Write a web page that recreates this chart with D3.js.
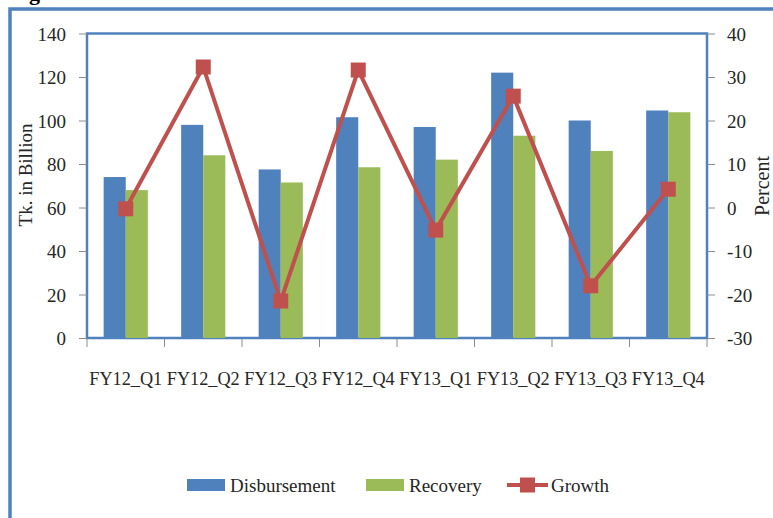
<!DOCTYPE html>
<html>
<head>
<meta charset="utf-8">
<script src="https://cdn.jsdelivr.net/npm/d3@7"></script>
<style>
  body { margin: 0; background: #fff; }
  svg text { font-family: "Liberation Serif", serif; fill: #262626; }
</style>
</head>
<body>
<div id="graph"></div>
<script>
// chart data
var quarters = ["FY12_Q1","FY12_Q2","FY12_Q3","FY12_Q4","FY13_Q1","FY13_Q2","FY13_Q3","FY13_Q4"];
var disbursement = [74, 98, 77.5, 101.5, 97, 122, 100, 104.6];
var recovery = [68, 84, 71.5, 78.5, 82, 93, 86, 103.8];
var growth = [-0.3, 32.3, -21.5, 31.6, -5.2, 25.6, -18, 4.2];
var leftTicks = [0,20,40,60,80,100,120,140];
var rightTicks = [-30,-20,-10,0,10,20,30,40];
var seriesNames = ["Disbursement","Recovery","Growth"];

var w = 773, h = 518;
var blue = "#4F81BD", green = "#9BBB59", red = "#C0504D";

var vis = d3.select("div#graph").append("svg")
    .attr("width", w)
    .attr("height", h);

// cut-off caption and outer frame
vis.append("text").attr("x", 29).attr("y", 0).style("font-size","22px")
   .style("font-weight","bold").style("fill","#000").text("g");
vis.append("rect").attr("x", 10).attr("y", 9).attr("width", 800).attr("height", 560)
   .attr("fill","none").attr("stroke", blue).attr("stroke-width", 3.5);

var pLeft = 87, pRight = 707, pTop = 33.5, pBottom = 338;

var x = d3.scaleBand().domain(quarters).range([pLeft, pRight])
    .paddingInner(0.43).paddingOuter(0.215);
var xCell = d3.scaleBand().domain(quarters).range([pLeft, pRight]);
var xs = d3.scaleBand().domain([0,1]).range([0, x.bandwidth()]);
var yL = d3.scaleLinear().domain([0,140]).range([pBottom, pTop]);
var yR = d3.scaleLinear().domain([-30,40]).range([pBottom, pTop]);

// plot frame
vis.append("rect").attr("x", pLeft).attr("y", pTop)
   .attr("width", pRight-pLeft).attr("height", pBottom-pTop)
   .attr("fill","#fff").attr("stroke", blue).attr("stroke-width", 2.5);

// bars
var bars = [disbursement, recovery];
var colors = [blue, green];
bars.forEach(function(vals, i) {
  vis.selectAll("rect.s"+i)
     .data(vals)
     .enter().append("rect")
     .attr("class","s"+i)
     .attr("x", function(d,j){ return x(quarters[j]) + xs(i); })
     .attr("width", xs.bandwidth())
     .attr("y", function(d){ return yL(d); })
     .attr("height", function(d){ return yL(0) - yL(d); })
     .attr("fill", colors[i]);
});

// axes (plain hyphen for negatives, like the original)
var plain = function(d){ return String(d); };
var axL = vis.append("g").attr("transform","translate("+pLeft+",0)")
   .call(d3.axisLeft(yL).tickValues(leftTicks).tickFormat(plain).tickSize(8).tickPadding(13));
var axR = vis.append("g").attr("transform","translate("+pRight+",0)")
   .call(d3.axisRight(yR).tickValues(rightTicks).tickFormat(plain).tickSize(8).tickPadding(12));
var axB = vis.append("g").attr("transform","translate(0,"+pBottom+")")
   .call(d3.axisBottom(xCell).tickSize(0).tickPadding(34));
[axL, axR, axB].forEach(function(a){
  a.select(".domain").remove();
  a.selectAll("line").attr("stroke","#8c8c8c");
  a.selectAll("text").style("font-size","19px").attr("fill","#262626");
});
axL.selectAll("text").attr("dy","0.35em");
axR.selectAll("text").attr("dy","0.35em");
axB.selectAll("text").attr("textLength", 73).attr("lengthAdjust","spacingAndGlyphs");

// category boundary ticks
var bounds = quarters.map(function(q){ return xCell(q); }).concat([pRight]);
vis.selectAll("line.xt").data(bounds).enter().append("line")
   .attr("x1", function(d){ return d; }).attr("x2", function(d){ return d; })
   .attr("y1", pBottom+1).attr("y2", pBottom+9)
   .attr("stroke","#8c8c8c");

// growth line
var line = d3.line()
   .x(function(d,j){ return x(quarters[j]) + x.bandwidth()/2; })
   .y(function(d){ return yR(d); });
vis.append("path").datum(growth).attr("d", line)
   .attr("fill","none").attr("stroke", red).attr("stroke-width", 4);
vis.selectAll("rect.mk").data(growth).enter().append("rect")
   .attr("class","mk")
   .attr("x", function(d,j){ return x(quarters[j]) + x.bandwidth()/2 - 7.5; })
   .attr("y", function(d){ return yR(d) - 7.5; })
   .attr("width", 15).attr("height", 15)
   .attr("fill", red);

// axis titles
vis.append("text").attr("transform","translate(32,175) rotate(-90)")
   .attr("text-anchor","middle").style("font-size","19px").text("Tk. in Billion");
vis.append("text").attr("transform","translate(769,186) rotate(-90)")
   .attr("text-anchor","middle").style("font-size","20px").text("Percent");

// legend
var lg = vis.append("g").attr("transform","translate(0,485)");
var legX = [187, 366, 507];
seriesNames.forEach(function(name, i) {
  var g = lg.append("g").attr("transform","translate("+legX[i]+",0)");
  if (i < 2) {
    g.append("rect").attr("x",0).attr("y",-6).attr("width",38).attr("height",12)
     .attr("fill", colors[i]);
  } else {
    g.append("line").attr("x1",0).attr("x2",41).attr("y1",0).attr("y2",0)
     .attr("stroke", red).attr("stroke-width",4);
    g.append("rect").attr("x",13).attr("y",-7.5).attr("width",15).attr("height",15)
     .attr("fill", red);
  }
  g.append("text").attr("x", i < 2 ? 43 : 44).attr("y", 0).attr("dy","0.35em")
   .style("font-size","19px").text(name);
});
</script>
</body>
</html>
